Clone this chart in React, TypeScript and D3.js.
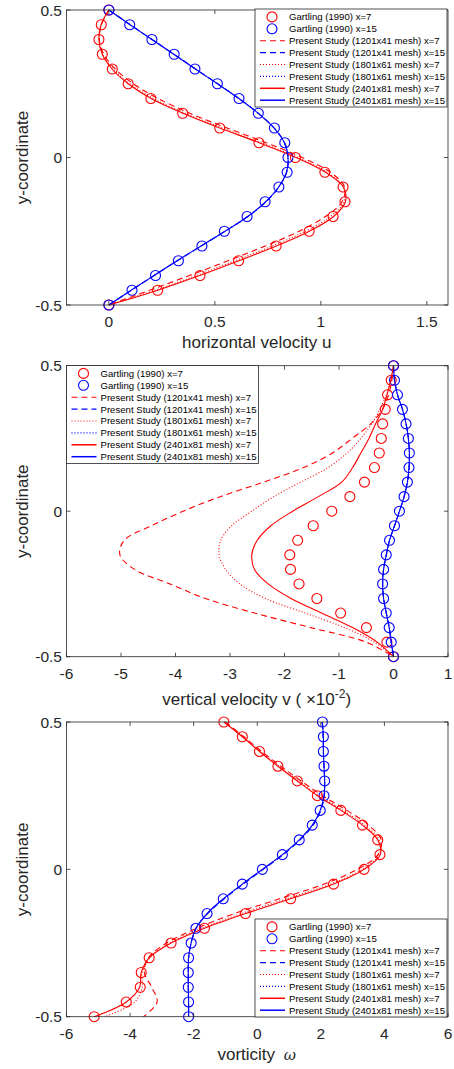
import React, { useEffect, useRef } from 'react';
import * as d3 from 'd3';

// y stations along the channel cross-section
const yPts = [0.5, 0.45, 0.4, 0.35, 0.3, 0.25, 0.2, 0.15, 0.1, 0.05, 0, -0.05, -0.1, -0.15, -0.2, -0.25, -0.3, -0.35, -0.4, -0.45, -0.5];
const yTicks = [0.5, 0, -0.5];

// horizontal velocity u
const uGart7 = [0, -0.036, -0.047, -0.031, 0.016, 0.091, 0.198, 0.348, 0.523, 0.708, 0.88, 1.019, 1.105, 1.114, 1.058, 0.945, 0.789, 0.612, 0.43, 0.23, 0];
const uGart15 = [0, 0.098, 0.203, 0.308, 0.406, 0.512, 0.614, 0.705, 0.781, 0.83, 0.845, 0.841, 0.802, 0.737, 0.652, 0.545, 0.439, 0.328, 0.22, 0.109, 0];
const u7_41 = [0, -0.035, -0.045, -0.024, 0.03, 0.115, 0.232, 0.382, 0.558, 0.742, 0.912, 1.045, 1.112, 1.1, 1.022, 0.898, 0.738, 0.562, 0.38, 0.192, 0];
const u7_61 = [0, -0.036, -0.046, -0.029, 0.02, 0.099, 0.21, 0.36, 0.535, 0.72, 0.892, 1.028, 1.108, 1.11, 1.045, 0.928, 0.77, 0.595, 0.413, 0.218, 0];
const u7_81 = [0, -0.037, -0.047, -0.031, 0.015, 0.091, 0.199, 0.349, 0.523, 0.709, 0.883, 1.022, 1.106, 1.116, 1.06, 0.946, 0.79, 0.613, 0.429, 0.231, 0];
const u15_41 = [0, 0.101, 0.204, 0.307, 0.409, 0.513, 0.614, 0.705, 0.78, 0.829, 0.846, 0.839, 0.802, 0.741, 0.656, 0.549, 0.436, 0.323, 0.214, 0.106, 0];
const u15_61 = [0, 0.1, 0.203, 0.306, 0.408, 0.512, 0.613, 0.704, 0.779, 0.828, 0.845, 0.838, 0.801, 0.74, 0.655, 0.548, 0.435, 0.322, 0.213, 0.105, 0];
const u15_81 = [0, 0.1, 0.203, 0.306, 0.408, 0.512, 0.613, 0.704, 0.779, 0.828, 0.845, 0.838, 0.801, 0.74, 0.655, 0.548, 0.435, 0.322, 0.213, 0.105, 0];
const uTicks = [0, 0.5, 1, 1.5];

// vertical velocity v (x 10^-2)
const vGart7 = [0, -0.042, -0.109, -0.152, -0.2, -0.224, -0.261, -0.35, -0.533, -0.8, -1.133, -1.473, -1.758, -1.903, -1.89, -1.733, -1.406, -0.97, -0.497, -0.121, 0];
const vGart15 = [0, 0.018, 0.073, 0.164, 0.23, 0.273, 0.291, 0.285, 0.255, 0.194, 0.109, 0.018, -0.073, -0.133, -0.182, -0.2, -0.182, -0.133, -0.079, -0.042, 0];
const v7_41 = [0, -0.03, -0.09, -0.2, -0.42, -0.76, -1.12, -1.65, -2.38, -3.18, -3.86, -4.44, -4.94, -5.02, -4.75, -4.1, -3.45, -2.55, -1.52, -0.5, 0];
const v7_61 = [0, -0.05, -0.13, -0.25, -0.4, -0.6, -0.85, -1.2, -1.7, -2.2, -2.6, -2.97, -3.17, -3.2, -3.08, -2.82, -2.35, -1.62, -0.9, -0.35, 0];
const v7_81 = [0, -0.05, -0.12, -0.2, -0.33, -0.45, -0.6, -0.75, -0.95, -1.38, -1.85, -2.25, -2.5, -2.6, -2.55, -2.3, -1.88, -1.32, -0.75, -0.3, 0];
const v15_41 = [0, 0.02, 0.075, 0.165, 0.232, 0.274, 0.292, 0.286, 0.256, 0.195, 0.11, 0.02, -0.072, -0.132, -0.181, -0.199, -0.181, -0.132, -0.078, -0.04, 0];
const v15_61 = [0, 0.019, 0.074, 0.164, 0.231, 0.273, 0.291, 0.285, 0.255, 0.194, 0.109, 0.019, -0.073, -0.133, -0.182, -0.2, -0.182, -0.133, -0.079, -0.041, 0];
const v15_81 = [0, 0.018, 0.073, 0.164, 0.23, 0.273, 0.291, 0.285, 0.255, 0.194, 0.109, 0.018, -0.073, -0.133, -0.182, -0.2, -0.182, -0.133, -0.079, -0.042, 0];
const vTicks = [-6, -5, -4, -3, -2, -1, 0, 1];

// vorticity omega
const wGart7 = [-1.05, -0.47, 0.07, 0.65, 1.26, 1.89, 2.63, 3.31, 3.79, 3.86, 3.36, 2.4, 1.05, -0.37, -1.66, -2.71, -3.4, -3.65, -3.68, -4.12, -5.13];
const wGart15 = [2.05, 2.08, 2.08, 2.1, 2.12, 2.1, 1.98, 1.73, 1.32, 0.79, 0.16, -0.47, -1.07, -1.58, -1.93, -2.08, -2.16, -2.17, -2.17, -2.16, -2.16];
const w7_41 = [-1.0, -0.42, 0.14, 0.74, 1.38, 2.05, 2.82, 3.5, 3.9, 3.8, 3.15, 2.1, 0.7, -0.72, -1.9, -2.85, -3.42, -3.55, -3.32, -3.15, -3.58];
const w7_61 = [-1.03, -0.45, 0.09, 0.68, 1.3, 1.95, 2.7, 3.38, 3.83, 3.84, 3.3, 2.3, 0.92, -0.5, -1.75, -2.75, -3.38, -3.62, -3.62, -3.85, -4.8];
const w7_81 = [-1.05, -0.47, 0.07, 0.65, 1.26, 1.89, 2.63, 3.31, 3.79, 3.87, 3.36, 2.4, 1.05, -0.37, -1.66, -2.71, -3.4, -3.65, -3.7, -4.12, -5.13];
const w15_41 = [2.04, 2.07, 2.08, 2.1, 2.12, 2.11, 2.0, 1.76, 1.35, 0.82, 0.19, -0.44, -1.04, -1.56, -1.92, -2.08, -2.16, -2.17, -2.17, -2.16, -2.16];
const w15_61 = [2.05, 2.08, 2.08, 2.1, 2.12, 2.1, 1.99, 1.74, 1.33, 0.8, 0.17, -0.46, -1.06, -1.57, -1.93, -2.08, -2.16, -2.17, -2.17, -2.16, -2.16];
const w15_81 = [2.05, 2.08, 2.08, 2.1, 2.12, 2.1, 1.98, 1.73, 1.32, 0.79, 0.16, -0.47, -1.07, -1.58, -1.93, -2.08, -2.16, -2.17, -2.17, -2.16, -2.16];
const wTicks = [-6, -4, -2, 0, 2, 4, 6];

const legendLabels = [
  'Gartling (1990) x=7',
  'Gartling (1990) x=15',
  'Present Study (1201x41 mesh) x=7',
  'Present Study (1201x41 mesh) x=15',
  'Present Study (1801x61 mesh) x=7',
  'Present Study (1801x61 mesh) x=15',
  'Present Study (2401x81 mesh) x=7',
  'Present Study (2401x81 mesh) x=15',
];

const RED = '#ff0000';
const BLUE = '#0000ff';
const AX = '#262626';
const FONT = '"Liberation Sans", Arial, Helvetica, sans-serif';

const styles = [
  { color: RED, kind: 'circle' },
  { color: BLUE, kind: 'circle' },
  { color: RED, kind: 'dash' },
  { color: BLUE, kind: 'dash' },
  { color: RED, kind: 'dot' },
  { color: BLUE, kind: 'dot' },
  { color: RED, kind: 'solid' },
  { color: BLUE, kind: 'solid' },
];

const dashOf = (kind) => (kind === 'dash' ? '6,4' : kind === 'dot' ? '1,2' : null);

const panels = [
  { top: 10, bottom: 305, domain: [-0.2, 1.6], ticks: uTicks, label: 'u', legend: [255, 9],
    series: [uGart7, uGart15, u7_41, u15_41, u7_61, u15_61, u7_81, u15_81] },
  { top: 365.7, bottom: 656.7, domain: [-6, 1], ticks: vTicks, label: 'v', legend: [66.5, 365.5],
    series: [vGart7, vGart15, v7_41, v15_41, v7_61, v15_61, v7_81, v15_81] },
  { top: 722, bottom: 1016.7, domain: [-6, 6], ticks: wTicks, label: 'w', legend: [255, 919],
    series: [wGart7, wGart15, w7_41, w15_41, w7_61, w15_61, w7_81, w15_81] },
];

export default function App() {
  const svgRef = useRef(null);

  useEffect(() => {
    const svg = d3.select(svgRef.current);
    svg.selectAll('*').remove();
    const left = 66.5, right = 448;

    panels.forEach((p) => {
      const x = d3.scaleLinear().domain(p.domain).range([left, right]);
      const y = d3.scaleLinear().domain([-0.5, 0.5]).range([p.bottom, p.top]);
      const g = svg.append('g');

      // curves
      const line = d3.line()
        .x((d) => x(d))
        .y((d, i) => y(yPts[i]))
        .curve(d3.curveCatmullRom.alpha(0.5));

      styles.forEach((s, k) => {
        if (s.kind === 'circle') {
          g.append('g').selectAll('circle').data(p.series[k]).join('circle')
            .attr('cx', (d) => x(d))
            .attr('cy', (d, i) => y(yPts[i]))
            .attr('r', 5)
            .attr('fill', 'none')
            .attr('stroke', s.color)
            .attr('stroke-width', 1.1);
        }
      });
      styles.forEach((s, k) => {
        if (s.kind !== 'circle') {
          g.append('path').datum(p.series[k])
            .attr('fill', 'none')
            .attr('stroke', s.color)
            .attr('stroke-width', 1.1)
            .attr('stroke-dasharray', dashOf(s.kind))
            .attr('d', line);
        }
      });

      // box and ticks
      g.append('rect')
        .attr('x', left).attr('y', p.top)
        .attr('width', right - left).attr('height', p.bottom - p.top)
        .attr('fill', 'none').attr('stroke', AX).attr('stroke-width', 0.8);

      const tl = 4;
      p.ticks.forEach((t) => {
        const tx = x(t);
        g.append('line').attr('x1', tx).attr('x2', tx).attr('y1', p.bottom).attr('y2', p.bottom - tl).attr('stroke', AX).attr('stroke-width', 0.8);
        g.append('line').attr('x1', tx).attr('x2', tx).attr('y1', p.top).attr('y2', p.top + tl).attr('stroke', AX).attr('stroke-width', 0.8);
        g.append('text').attr('x', tx).attr('y', p.bottom + 22)
          .attr('text-anchor', 'middle').attr('font-size', 15.5).attr('fill', AX).attr('font-family', FONT)
          .text(String(t));
      });
      yTicks.forEach((t) => {
        const ty = y(t);
        g.append('line').attr('x1', left).attr('x2', left + tl).attr('y1', ty).attr('y2', ty).attr('stroke', AX).attr('stroke-width', 0.8);
        g.append('line').attr('x1', right).attr('x2', right - tl).attr('y1', ty).attr('y2', ty).attr('stroke', AX).attr('stroke-width', 0.8);
        g.append('text').attr('x', 62).attr('y', ty).attr('dy', '0.36em')
          .attr('text-anchor', 'end').attr('font-size', 15.5).attr('fill', AX).attr('font-family', FONT)
          .text(String(t));
      });

      // axis labels
      const cy = (p.top + p.bottom) / 2;
      g.append('text').attr('transform', `translate(28,${cy}) rotate(-90)`)
        .attr('text-anchor', 'middle').attr('font-size', 17).attr('fill', AX).attr('font-family', FONT)
        .text('y-coordinate');

      const cx = (left + right) / 2;
      const xl = g.append('text').attr('x', cx - 0.5).attr('text-anchor', 'middle')
        .attr('font-size', 17).attr('fill', AX).attr('font-family', FONT);
      if (p.label === 'u') {
        xl.attr('y', p.bottom + 43.3).text('horizontal velocity u');
      } else if (p.label === 'v') {
        xl.attr('y', p.bottom + 48);
        xl.append('tspan').text('vertical velocity v ( \u00d710');
        xl.append('tspan').attr('dy', -7).attr('font-size', 12).text('-2');
        xl.append('tspan').attr('dy', 7).text(')');
      } else {
        xl.attr('y', p.bottom + 43.3);
        xl.append('tspan').text('vorticity ');
        xl.append('tspan').attr('dx', 4).attr('font-style', 'italic').attr('font-family', 'DejaVu Serif, serif').attr('font-size', 15).text('\u03c9');
      }

      // legend
      const [lx, ly] = p.legend;
      const lg = g.append('g').attr('transform', `translate(${lx},${ly})`);
      lg.append('rect').attr('width', 192).attr('height', 98)
        .attr('fill', 'white').attr('stroke', AX).attr('stroke-width', 0.8);
      styles.forEach((s, k) => {
        const ry = 7.9 + k * 11.9;
        if (s.kind === 'circle') {
          lg.append('circle').attr('cx', 17).attr('cy', ry).attr('r', 5)
            .attr('fill', 'none').attr('stroke', s.color).attr('stroke-width', 1.1);
        } else {
          lg.append('line').attr('x1', 5).attr('x2', 30).attr('y1', ry).attr('y2', ry)
            .attr('stroke', s.color).attr('stroke-width', s.kind === 'solid' ? 1.5 : 1.1)
            .attr('stroke-dasharray', dashOf(s.kind));
        }
        lg.append('text').attr('x', 34).attr('y', ry).attr('dy', '0.36em')
          .attr('font-size', 9.6).attr('fill', '#000').attr('font-family', FONT)
          .text(legendLabels[k]);
      });
    });
  }, []);

  return (
    <svg ref={svgRef} width={454} height={1069}
      style={{ position: 'absolute', left: 0, top: 0, background: 'white' }} />
  );
}
